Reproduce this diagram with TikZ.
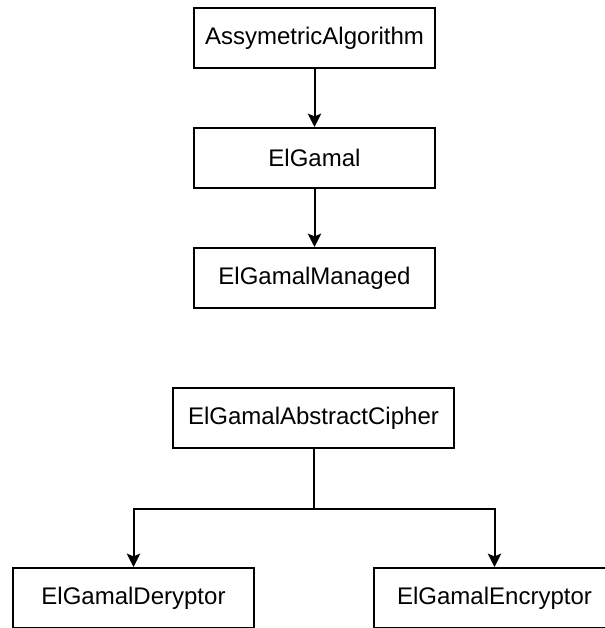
\documentclass[tikz,border=0pt]{standalone}
\usepackage{fontspec}
\setmainfont{Liberation Sans}
\usetikzlibrary{arrows.meta}
\tikzset{
  classbox/.style={draw, line width=1.5pt, minimum width=#1, minimum height=45pt,
    inner sep=0pt, font=\fontsize{18}{21}\selectfont},
  classbox/.default=180.75pt,
  inherit/.style={-{Stealth[length=10pt,width=10pt,inset=2pt]}, line width=1.5pt},
  branchline/.style={line width=1.5pt}
}
\begin{document}
\begin{tikzpicture}[x=0.75pt,y=-0.75pt]
\useasboundingbox (0,0) rectangle (604,628);
% upper chain
\node[classbox] (algo) at (314.5,38) {AssymetricAlgorithm};
\node[classbox] (elgamal) at (314.5,158) {ElGamal};
\node[classbox] (managed) at (314.5,278) {ElGamalManaged};
\draw[inherit] (algo) -- (elgamal);
\draw[inherit] (elgamal) -- (managed);
% cipher and its two children
\node[classbox=210.75pt] (cipher) at (313.5,418) {ElGamalAbstractCipher};
\node[classbox] (decryptor) at (133.5,598) {ElGamalDeryptor};
\node[classbox] (encryptor) at (494.5,598) {ElGamalEncryptor};
\coordinate (fork) at (313.5,509);
\draw[branchline] (cipher) -- (fork);
\draw[inherit] (fork) -| (decryptor);
\draw[inherit] (fork) -| (encryptor);
\end{tikzpicture}
\end{document}
